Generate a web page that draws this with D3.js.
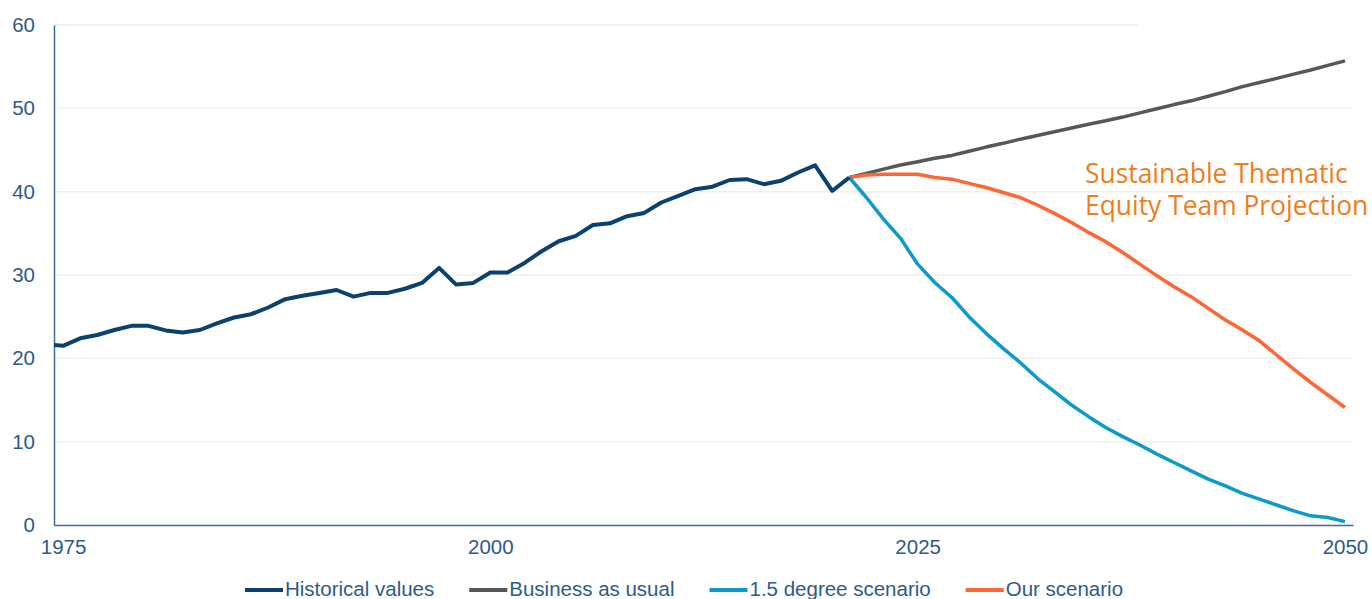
<!DOCTYPE html>
<html>
<head>
<meta charset="utf-8">
<script src="https://cdn.jsdelivr.net/npm/d3@7"></script>
<style>
  html, body { margin: 0; padding: 0; background: #ffffff; }
  svg { display: block; }
</style>
</head>
<body>
<svg id="chart" width="1372" height="599"></svg>
<script>
// ---- DATA ----
const histYears = d3.range(1974, 2022);
const histValues = [21.7, 21.5, 22.4, 22.8, 23.4, 23.9, 23.9, 23.35, 23.1, 23.4,
  24.2, 24.9, 25.3, 26.1, 27.1, 27.5, 27.85, 28.2, 27.4, 27.85,
  27.85, 28.35, 29.05, 30.85, 28.85, 29.05, 30.3, 30.3, 31.45, 32.85,
  34.05, 34.7, 36.0, 36.2, 37.06, 37.45, 38.7, 39.5, 40.3, 40.6,
  41.4, 41.5, 40.9, 41.3, 42.3, 43.15, 40.1, 41.7];
const projYears = d3.range(2021, 2051);
const bauValues = [41.7, 42.2, 42.7, 43.2, 43.6, 44.0, 44.35, 44.85, 45.35, 45.8,
  46.3, 46.75, 47.2, 47.65, 48.1, 48.5, 48.95, 49.45, 49.95, 50.45,
  50.9, 51.45, 52.0, 52.6, 53.1, 53.6, 54.1, 54.6, 55.15, 55.7];
const degValues = [41.7, 39.3, 36.7, 34.4, 31.3, 29.1, 27.3, 25.0, 23.0, 21.2,
  19.5, 17.6, 16.0, 14.4, 13.0, 11.7, 10.6, 9.6, 8.5, 7.5,
  6.5, 5.5, 4.7, 3.8, 3.1, 2.4, 1.7, 1.1, 0.9, 0.4];
const ourValues = [41.7, 42.0, 42.1, 42.1, 42.1, 41.7, 41.5, 41.0, 40.5, 39.9,
  39.3, 38.4, 37.4, 36.3, 35.1, 34.0, 32.7, 31.3, 29.9, 28.6,
  27.4, 26.0, 24.6, 23.4, 22.1, 20.4, 18.7, 17.1, 15.6, 14.1];
const xTicks = [1975, 2000, 2025, 2050];
const yTicks = [0, 10, 20, 30, 40, 50, 60];
const seriesNames = ["Historical values", "Business as usual", "1.5 degree scenario", "Our scenario"];
const seriesColors = ["#0b416f", "#575757", "#0a9bcc", "#ff6633"];
const annotationLines = ["Sustainable Thematic", "Equity Team Projection"];

// ---- SCALES ----
const svg = d3.select("#chart");
const x = d3.scaleLinear().domain([1974.47, 2050.47]).range([54, 1353]);
const y = d3.scaleLinear().domain([0, 60]).range([525, 25]);
const axisColor = "#3d6a96";
const labelColor = "#2e5b88";

// clip
svg.append("clipPath").attr("id", "plotclip")
  .append("rect").attr("x", x.range()[0]).attr("y", 0)
  .attr("width", x.range()[1] - x.range()[0]).attr("height", y(0));

// gridlines
svg.append("g").selectAll("line").data(yTicks.filter(d => d > 0)).join("line")
  .attr("x1", x.range()[0])
  .attr("x2", d => d === 60 ? x(2037.9) : x.range()[1])
  .attr("y1", d => y(d)).attr("y2", d => y(d))
  .attr("stroke", "#efefef").attr("stroke-width", 1.5);

// y axis
const yAxis = svg.append("g").attr("transform", `translate(${x.range()[0]},0)`)
  .call(d3.axisLeft(y).tickValues(yTicks).tickSize(0).tickPadding(19));
yAxis.select(".domain").attr("stroke", axisColor).attr("stroke-width", 1.5);
yAxis.selectAll("text").attr("font-family", "Liberation Sans, Arial, sans-serif")
  .attr("font-size", 20.5).attr("fill", labelColor);

// x axis
const xAxis = svg.append("g").attr("transform", `translate(0,${y(0)})`)
  .call(d3.axisBottom(x).tickValues(xTicks).tickFormat(d3.format("d")).tickSize(0).tickPadding(14));
xAxis.select(".domain").attr("stroke", axisColor).attr("stroke-width", 1.5);
xAxis.selectAll("text").attr("font-family", "Liberation Sans, Arial, sans-serif")
  .attr("font-size", 20.5).attr("fill", labelColor);

// lines
const line = d3.line().x(d => x(d[0])).y(d => y(d[1]));
const lines = [
  { years: projYears, values: bauValues, color: seriesColors[1], w: 3.5 },
  { years: projYears, values: ourValues, color: seriesColors[3], w: 3.5 },
  { years: projYears, values: degValues, color: seriesColors[2], w: 3.5 },
  { years: histYears, values: histValues, color: seriesColors[0], w: 4 }
];
const lg = svg.append("g").attr("clip-path", "url(#plotclip)");
lines.forEach(s => {
  lg.append("path")
    .datum(s.years.map((yr, i) => [yr, s.values[i]]))
    .attr("d", line)
    .attr("fill", "none")
    .attr("stroke", s.color)
    .attr("stroke-width", s.w)
    .attr("stroke-linejoin", "round");
});

// annotation
const ann = svg.append("text")
  .attr("font-family", "Open Sans, Noto Sans, sans-serif")
  .attr("font-size", 26.4).attr("fill", "#ef7d1b");
annotationLines.forEach((t, i) => {
  ann.append("tspan").attr("x", 1085).attr("y", 183 + i * 32).text(t);
});

// legend
const legend = svg.append("g");
let lx = 245;
seriesNames.forEach((name, i) => {
  legend.append("line").attr("x1", lx).attr("x2", lx + 38)
    .attr("y1", 590).attr("y2", 590)
    .attr("stroke", seriesColors[i]).attr("stroke-width", 4);
  const t = legend.append("text").attr("x", lx + 40).attr("y", 596)
    .attr("font-family", "Liberation Sans, Arial, sans-serif")
    .attr("font-size", 20.5).attr("fill", labelColor).text(name);
  lx += 40 + t.node().getComputedTextLength() + 35;
});
</script>
</body>
</html>
